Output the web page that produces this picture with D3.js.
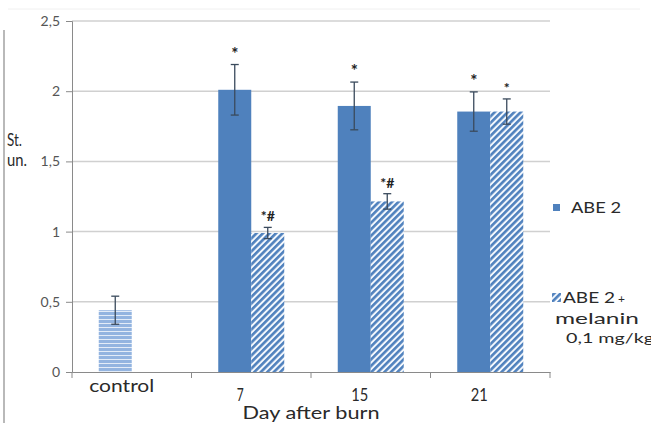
<!DOCTYPE html>
<html><head><meta charset="utf-8">
<script src="https://cdn.jsdelivr.net/npm/d3@7"></script>
<style>body{margin:0;background:#fff}svg{display:block}text{font-family:Lato,"Open Sans",sans-serif}</style>
</head><body><svg id="c" width="651" height="423"></svg>
<script>
const categories = ["control", "7", "15", "21"];
const abe2 = [0.44, 2.01, 1.895, 1.855];
const abe2Err = [0.10, 0.18, 0.17, 0.14];
const mel = [null, 0.99, 1.215, 1.855];
const melErr = [null, 0.04, 0.055, 0.09];
const abe2Marks = ["", "*", "*", "*"];
const melMarks = ["", "*#", "*#", "*"];
const yTicks = [0, 0.5, 1, 1.5, 2, 2.5];
const yTickLabels = ["0", "0,5", "1", "1,5", "2", "2,5"];

const svg = d3.select("#c");
const L = 72, R = 550, T = 21, B = 372;
const x = d3.scaleBand().domain(categories).range([L, R]);
const y = d3.scaleLinear().domain([0, 2.5]).range([B, T]);
const bw = 33;
const blue = "#4f81bd";

const defs = svg.append("defs");
const hatch = defs.append("pattern").attr("id","hatch").attr("patternUnits","userSpaceOnUse")
  .attr("width",4.6).attr("height",4.6).attr("patternTransform","rotate(45)");
hatch.append("rect").attr("width",4.6).attr("height",4.6).attr("fill","#f4f8fd");
hatch.append("rect").attr("width",2.6).attr("height",4.6).attr("fill",blue);
const horiz = defs.append("pattern").attr("id","horiz").attr("patternUnits","userSpaceOnUse")
  .attr("width",4).attr("height",4);
horiz.append("rect").attr("width",4).attr("height",4).attr("fill","#93b4e0");
horiz.append("rect").attr("y",3).attr("width",4).attr("height",1).attr("fill","#e3ecf8");

// outer decorations
svg.append("line").attr("x1",4).attr("x2",4).attr("y1",30).attr("y2",423).attr("stroke","#8a8a8a").attr("stroke-width",1.2);
svg.append("line").attr("x1",8).attr("x2",640).attr("y1",9).attr("y2",9).attr("stroke","#f0f0f0");

// gridlines
svg.append("g").selectAll("line").data(yTicks.slice(1)).join("line")
  .attr("x1",L).attr("x2",R).attr("y1",d=>y(d)).attr("y2",d=>y(d))
  .attr("stroke","#d0d0d0").attr("stroke-width",1.5);

// axes
const yAxis = svg.append("g").attr("transform",`translate(${L},0)`)
  .call(d3.axisLeft(y).tickValues(yTicks).tickFormat((d,i)=>yTickLabels[i]).tickSize(6).tickPadding(6));
yAxis.select(".domain").attr("stroke","#8a8a8a");
yAxis.selectAll(".tick line").attr("stroke","#8a8a8a");
yAxis.selectAll(".tick text").attr("font-size",14).attr("fill","#555");

const xAxis = svg.append("g").attr("transform",`translate(0,${B})`)
  .call(d3.axisBottom(x).tickValues([]).tickSizeOuter(0));
xAxis.select(".domain").attr("stroke","#8a8a8a");
xAxis.selectAll(".bt").data(d3.range(categories.length+1)).join("line")
  .attr("x1",i=>L+i*x.step()).attr("x2",i=>L+i*x.step()).attr("y1",0).attr("y2",6).attr("stroke","#8a8a8a");

// bars
const cx = d => x(d) + x.bandwidth()/2;
svg.append("g").selectAll("rect").data(categories).join("rect")
  .attr("x",d=>cx(d)-bw).attr("width",bw)
  .attr("y",(d,i)=>y(abe2[i])).attr("height",(d,i)=>B-y(abe2[i]))
  .attr("fill",(d,i)=>i===0?"url(#horiz)":blue);
svg.append("g").selectAll("rect").data(categories.filter((d,i)=>mel[i]!=null)).join("rect")
  .attr("x",d=>cx(d)).attr("width",bw)
  .attr("y",d=>y(mel[categories.indexOf(d)])).attr("height",d=>B-y(mel[categories.indexOf(d)]))
  .attr("fill","url(#hatch)");

// error bars
function err(xc, v, e){
  const g = svg.append("g").attr("stroke","#3a4a5c").attr("stroke-width",1.3);
  g.append("line").attr("x1",xc).attr("x2",xc).attr("y1",y(v+e)).attr("y2",y(v-e));
  g.append("line").attr("x1",xc-4).attr("x2",xc+4).attr("y1",y(v+e)).attr("y2",y(v+e));
  g.append("line").attr("x1",xc-4).attr("x2",xc+4).attr("y1",y(v-e)).attr("y2",y(v-e));
}
categories.forEach((c,i)=>{
  err(cx(c)-bw/2, abe2[i], abe2Err[i]);
  if(mel[i]!=null) err(cx(c)+bw/2, mel[i], melErr[i]);
});

// significance marks
categories.forEach((c,i)=>{
  if(abe2Marks[i]) svg.append("text").attr("x",cx(c)-bw/2).attr("y",y(abe2[i]+abe2Err[i])-5)
    .attr("text-anchor","middle").attr("font-size",17).attr("font-weight","bold").attr("fill","#222").text(abe2Marks[i]);
  if(melMarks[i]) svg.append("text").attr("x",cx(c)+bw/2).attr("y",y(mel[i]+melErr[i])-6)
    .attr("text-anchor","middle").attr("font-size",14).attr("font-weight","bold").attr("fill","#222").text(melMarks[i]);
});

function txt(t, x0, y0, fs, len, anchor){
  const e = svg.append("text").attr("x",x0).attr("y",y0).attr("font-size",fs).attr("fill","#2a2a2a")
    .attr("text-anchor",anchor||"start").text(t);
  if(len) e.attr("textLength",len).attr("lengthAdjust","spacingAndGlyphs");
  return e;
}

// category labels
const catLen = {"control":65, "7":7, "15":17, "21":17};
categories.forEach((d,i)=>{
  txt(d, cx(d)-(i===0?10:11), i===0?392:401, 17, catLen[d], "middle");
});

txt("Day after burn", 311, 419, 18, 137, "middle");
txt("St.", 7, 146, 17, 15);
txt("un.", 7, 166, 17, 20);

// legend
svg.append("rect").attr("x",553).attr("y",204).attr("width",7).attr("height",7).attr("fill",blue);
txt("ABE 2", 571, 213, 16, 50);
svg.append("rect").attr("x",552).attr("y",293).attr("width",9).attr("height",9).attr("fill","url(#hatch)");
txt("ABE 2", 563, 303, 16, 52);
txt("+", 618, 303, 12);
txt("melanin", 555, 324, 16, 84);
txt("0,1 mg/kg", 566, 343, 14, 88);
</script></body></html>
